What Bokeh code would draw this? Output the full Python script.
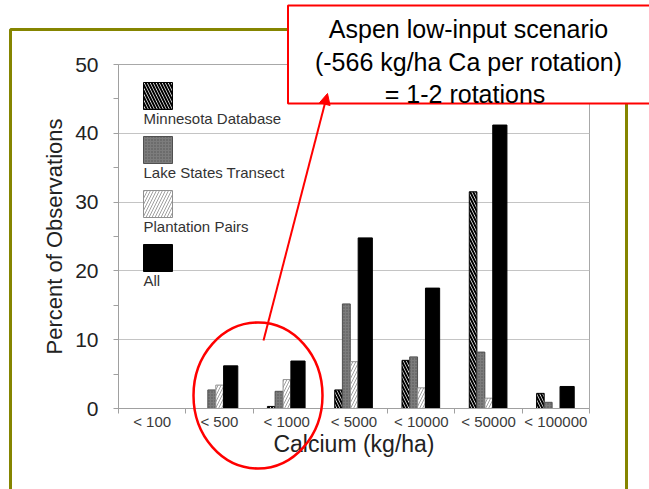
import numpy as np
from bokeh.plotting import figure
from bokeh.models import Range1d, FixedTicker, Arrow, NormalHead, GridBox
from bokeh.core.properties import value
from bokeh.embed import file_html
from bokeh.resources import INLINE

# ---------------- data ----------------
categories = ["< 100", "< 500", "< 1000", "< 5000", "< 10000", "< 50000", "< 100000"]
minnesota = [0, 0, 0.3, 2.7, 7.0, 31.5, 2.2]
lake_states = [0, 2.7, 2.5, 15.2, 7.5, 8.2, 0.9]
plantation = [0, 3.4, 4.2, 6.8, 3.0, 1.5, 0]
all_obs = [0, 6.2, 6.9, 24.8, 17.5, 41.2, 3.2]
series_names = ["Minnesota Database", "Lake States Transect", "Plantation Pairs", "All"]
y_ticks = [0, 10, 20, 30, 40, 50]
y_minor = [5, 15, 25, 35, 45]
callout = ["Aspen low-input scenario", "(-566 kg/ha Ca per rotation)", "=  1-2 rotations"]

FONT = "Liberation Sans"
W, H = 649, 489
# plot frame in page pixels
FL, FR, FT, FB = 118, 589, 64, 408
NX = len(categories)
YMAX = 50

# ---------------- chart figure ----------------
p = figure(width=W, height=H, x_range=Range1d(0, NX), y_range=Range1d(0, YMAX),
           output_backend="svg", toolbar_location=None, title=None,
           min_border_left=FL, min_border_right=W - FR,
           min_border_top=FT, min_border_bottom=H - FB)
p.frame_align = False
p.background_fill_color = "white"
p.border_fill_color = "white"
p.outline_line_color = "#a8a8a8"
p.outline_line_width = 1

idx = np.arange(NX)
styles = [
    dict(fill_color="white", hatch_pattern="\\", hatch_color="black", hatch_scale=6,
         hatch_weight=2, line_color="black"),
    dict(fill_color="#7c7c7c", hatch_pattern=".", hatch_color="#555555", hatch_scale=3,
         hatch_weight=1, line_color="#505050"),
    dict(fill_color="white", hatch_pattern="/", hatch_color="#a0a0a0", hatch_scale=6,
         hatch_weight=1, line_color="#909090"),
    dict(fill_color="black", line_color="black"),
]
centers = [0.270, 0.386, 0.5015, 0.6675]
widths = [0.113, 0.117, 0.111, 0.211]
series = [minnesota, lake_states, plantation, all_obs]
for vals, st, c, w in zip(series, styles, centers, widths):
    p.vbar(x=idx + c, top=vals, width=w, line_width=1, **st)

p.xaxis.ticker = FixedTicker(ticks=list(idx + 0.5), minor_ticks=list(range(NX + 1)))
p.xaxis.major_label_overrides = {float(i) + 0.5: c for i, c in enumerate(categories)}
p.xaxis.axis_label = "Calcium (kg/ha)"
p.yaxis.ticker = FixedTicker(ticks=y_ticks, minor_ticks=y_minor)
p.yaxis.axis_label = "Percent of Observations"
for ax in (p.xaxis[0], p.yaxis[0]):
    ax.axis_line_color = "#a0a0a0"
    ax.major_tick_line_color = "#a0a0a0"
    ax.minor_tick_line_color = "#a0a0a0"
    ax.major_tick_in = 0
    ax.minor_tick_in = 0
    ax.minor_tick_out = 5
    ax.axis_label_text_font = FONT
    ax.axis_label_text_font_style = "normal"
    ax.axis_label_text_color = "#222222"
    ax.major_label_text_font = FONT
p.xaxis.major_tick_out = 0
p.xaxis.major_label_standoff = -1
p.xaxis.major_label_text_font_size = "15px"
p.xaxis.major_label_text_color = "#3a3a3a"
p.xaxis.axis_label_text_font_size = "23px"
p.xaxis.axis_label_standoff = -2
p.yaxis.major_tick_out = 5
p.yaxis.major_label_standoff = 15
p.yaxis.major_label_text_font_size = "21px"
p.yaxis.major_label_text_color = "#222222"
p.yaxis.axis_label_text_font_size = "22px"
p.yaxis.axis_label_standoff = 5
p.xgrid.visible = False
p.ygrid.ticker = FixedTicker(ticks=y_ticks)
p.ygrid.grid_line_color = "#c4c4c4"

# ---------------- overlay figure (page pixel coordinates) ----------------
d = figure(width=W, height=H, x_range=Range1d(0, W), y_range=Range1d(H, 0),
           output_backend="svg", toolbar_location=None, title=None,
           x_axis_location=None, y_axis_location=None,
           min_border=0, min_border_left=0, min_border_right=0,
           min_border_top=0, min_border_bottom=0)
d.frame_align = False
d.background_fill_color = None
d.border_fill_color = None
d.outline_line_color = None
d.xgrid.visible = False
d.ygrid.visible = False

# legend: swatch above its label
sw_tops = [82, 136, 190, 244]
for name, st, top in zip(series_names, styles, sw_tops):
    d.quad(left=[143], right=[172], top=[top], bottom=[top + 27], line_width=1, **st)
    d.text(x=[143], y=[top + 27], text=[name], text_baseline="top", text_align="left",
           text_font=value(FONT), text_font_size="15px", text_color="#333333")

# olive slide frame
d.quad(left=[10], right=[626], top=[29], bottom=[530], fill_color=None,
       line_color="#858500", line_width=3)
# red callout box
d.quad(left=[287.5], right=[700], top=[5], bottom=[103], fill_color="white",
       line_color="red", line_width=2)
d.text(x=[468] * 3, y=[28.5, 61, 93.5], text=callout, text_align="center",
       text_baseline="alphabetic", text_font=value(FONT), text_font_size="25px",
       text_color="black")
# arrow
d.add_layout(Arrow(x_start=263, y_start=340, x_end=327, y_end=93,
                   line_color="red", line_width=2,
                   end=NormalHead(size=11, fill_color="red", line_color="red")))
# ellipse
d.ellipse(x=[257.5], y=[395], width=[129], height=[146], fill_color=None,
          line_color="red", line_width=2.5)

layout = GridBox(children=[(p, 0, 0), (d, 0, 0)])
open("out.html", "w").write(file_html(layout, INLINE))
